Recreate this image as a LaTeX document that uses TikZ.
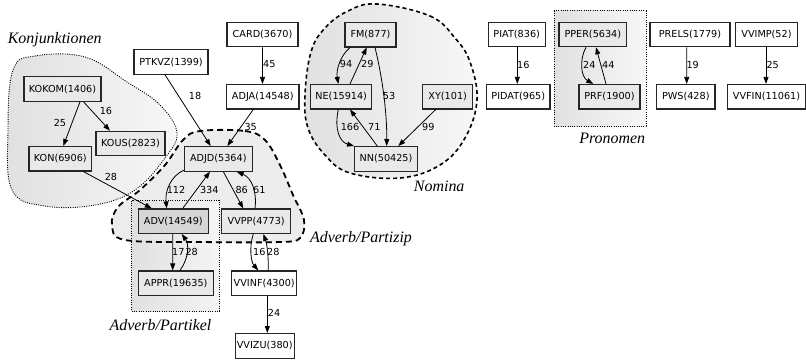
\documentclass[tikz,border=0pt]{standalone}
\usepackage{fontspec}
\newfontfamily\nodefont{DejaVu Sans}
\newfontfamily\clusterfont{Liberation Serif}
\usetikzlibrary{arrows.meta}
\begin{document}
\begin{tikzpicture}[x=1bp,y=-1bp,
  nd/.style={draw=black!85, line width=1.1bp, fill=white, minimum height=24.5bp, inner sep=0pt, font=\nodefont\fontsize{9.7}{11}\selectfont},
  gn/.style={nd, fill=gray!17},
  dn/.style={nd, fill=gray!32},
  lab/.style={font=\nodefont\fontsize{9.7}{11}\selectfont, inner sep=0pt},
  cl/.style={font=\clusterfont\itshape\fontsize{16}{18}\selectfont, inner sep=0pt},
  e/.style={line width=0.8bp, -{Triangle[length=7bp,width=5bp]}},
  dotbord/.style={line width=0.9bp, dash pattern=on 1bp off 1.3bp},
  dashA/.style={line width=1.8bp, dash pattern=on 6bp off 4bp},
  dashB/.style={line width=1.6bp, dash pattern=on 4bp off 3bp}]
\useasboundingbox (0,0) rectangle (806,360);
% clusters
\draw[dotbord, left color=gray!24, right color=gray!6] plot[smooth cycle, tension=0.65] coordinates {(13,70) (35,56) (85,57) (127,82) (160,105) (177,133) (165,158) (135,190) (95,205) (45,206) (12,190) (8,130)};
\draw[dashB, left color=gray!24, right color=gray!6] plot[smooth cycle, tension=0.65] coordinates {(377,4) (430,16) (455,38) (470,62) (477,100) (465,138) (440,165) (400,178) (350,173) (325,155) (308,128) (305,95) (311,52) (325,28) (348,11)};
\path[fill=gray!15] plot[smooth cycle, tension=0.6] coordinates {(200,131) (245,131) (265,140) (280,165) (293,195) (304,220) (300,238) (280,242) (200,242) (125,240) (112,225) (118,207) (140,190) (165,165) (183,140)};
\draw[dotbord, left color=gray!24, right color=gray!8] (131.7,200.7) rectangle (219.3,311);
\draw[dashA] plot[smooth cycle, tension=0.6] coordinates {(200,131) (245,131) (265,140) (280,165) (293,195) (304,220) (300,238) (280,242) (200,242) (125,240) (112,225) (118,207) (140,190) (165,165) (183,140)};
\draw[dotbord, left color=gray!24, right color=gray!6] (554,10.7) rectangle (646,126);
% cluster labels
\node[cl] (ckon) at (54.7,39.5) {Konjunktionen};
\node[cl] (cnom) at (439.2,186.5) {Nomina};
\node[cl] (cpz) at (361,239) {Adverb/Partizip};
\node[cl] (cpk) at (160.5,325) {Adverb/Partikel};
\node[cl] (cpro) at (612.2,138) {Pronomen};
% nodes
\node[gn, minimum width=77bp] (kokom) at (62.5,89) {KOKOM(1406)};
\node[gn, minimum width=69bp] (kous) at (130.5,143.5) {KOUS(2823)};
\node[gn, minimum width=62.7bp] (kon) at (60.3,158.7) {KON(6906)};
\node[nd, minimum width=74bp] (ptkvz) at (171,62) {PTKVZ(1399)};
\node[nd, minimum width=71bp] (card) at (262.5,34.6) {CARD(3670)};
\node[nd, minimum width=72.3bp] (adja) at (262.8,96.7) {ADJA(14548)};
\node[gn, minimum width=68bp] (adjd) at (218.3,158.8) {ADJD(5364)};
\node[dn, minimum width=70bp] (adv) at (173.3,221.2) {ADV(14549)};
\node[gn, minimum width=69bp] (vvpp) at (256.2,221.2) {VVPP(4773)};
\node[gn, minimum width=75bp] (appr) at (175.8,283.2) {APPR(19635)};
\node[nd, minimum width=65bp] (vvinf) at (264.2,283.2) {VVINF(4300)};
\node[nd, minimum width=59.3bp] (vvizu) at (264.7,345.8) {VVIZU(380)};
\node[gn, minimum width=51bp] (fm) at (370.5,34.7) {FM(877)};
\node[gn, minimum width=61bp] (ne) at (341.2,96.7) {NE(15914)};
\node[gn, minimum width=50bp] (xy) at (447.7,96.7) {XY(101)};
\node[gn, minimum width=63.4bp] (nn) at (386,158.8) {NN(50425)};
\node[nd, minimum width=56.7bp] (piat) at (516.7,34.5) {PIAT(836)};
\node[nd, minimum width=63.3bp] (pidat) at (518.3,96.7) {PIDAT(965)};
\node[gn, minimum width=67.7bp] (pper) at (592.8,34.5) {PPER(5634)};
\node[gn, minimum width=61bp] (prf) at (609.5,96.7) {PRF(1900)};
\node[nd, minimum width=80bp] (prels) at (690,34.5) {PRELS(1779)};
\node[nd, minimum width=58.3bp] (pws) at (685.8,96.7) {PWS(428)};
\node[nd, minimum width=61.6bp] (vvimp) at (766.5,34.5) {VVIMP(52)};
\node[nd, minimum width=78.4bp] (vvfin) at (766.5,96.7) {VVFIN(11061)};
% edges
\draw[e] ([xshift=17.5bp]kokom.south) -- ([xshift=3bp]kon.north);
\draw[e] ([xshift=21bp]kokom.south) -- ([xshift=-20.5bp]kous.north);
\draw[e] ([xshift=23bp]kon.south) -- ([xshift=-21.6bp]adv.north);
\draw[e] ([xshift=-6bp]ptkvz.south) -- ([xshift=-7.6bp]adjd.north);
\draw[e] (card.south) -- ([xshift=-0.3bp]adja.north);
\draw[e] ([xshift=-9.5bp]adja.south) -- ([xshift=9bp]adjd.north);
\draw[e] ([xshift=0.5bp,yshift=1.5bp]adjd.south west) .. controls (170,176) and (165,192) .. ([xshift=-6.6bp]adv.north);
\draw[e] ([xshift=9.4bp]adv.north) -- ([xshift=-8.3bp]adjd.south);
\draw[e] ([xshift=5bp]adjd.south) -- ([xshift=-13bp]vvpp.north);
\draw[e] ([xshift=-1.2bp]vvpp.north) .. controls (257,192) and (252,178) .. ([xshift=18.4bp]adjd.south);
\draw[e] ([xshift=-0.6bp]adv.south) -- ([xshift=-3.1bp]appr.north);
\draw[e] ([xshift=4.2bp]appr.north) .. controls (189,258) and (189,244) .. ([xshift=8.4bp]adv.south);
\draw[e] ([xshift=-2.9bp]vvpp.south) .. controls (249,247) and (251,262) .. ([xshift=-5.9bp]vvinf.north);
\draw[e] ([xshift=4.1bp]vvinf.north) .. controls (268.5,256) and (267,244) .. ([xshift=7.1bp]vvpp.south);
\draw[e] ([xshift=3.1bp]vvinf.south) -- ([xshift=2.6bp]vvizu.north);
\draw[e] ([xshift=-20.5bp]fm.south) .. controls (340,56) and (336,70) .. ([xshift=-2.9bp]ne.north);
\draw[e] ([xshift=8.8bp]ne.north) -- ([xshift=-3.8bp]fm.south);
\draw[e] ([xshift=4.5bp]fm.south) .. controls (383,80) and (387,115) .. ([xshift=0.7bp]nn.north);
\draw[e] ([xshift=-2.9bp]ne.south) .. controls (334,130) and (340,142) .. ([xshift=-32bp]nn.north);
\draw[e] ([xshift=-8.7bp]nn.north) -- ([xshift=8.8bp]ne.south);
\draw[e] ([xshift=-12bp]xy.south) -- ([xshift=12.3bp]nn.north);
\draw[e] ([xshift=0.6bp]piat.south) -- ([xshift=-1bp]pidat.north);
\draw[e] ([xshift=-6.8bp]pper.south) .. controls (579,60) and (581,77) .. ([xshift=-16.2bp]prf.north);
\draw[e] ([xshift=-3.5bp]prf.north) -- ([xshift=3.2bp]pper.south);
\draw[e] ([xshift=-3.3bp]prels.south) -- ([xshift=0.9bp]pws.north);
\draw[e] ([xshift=-0.5bp]vvimp.south) -- ([xshift=-0.5bp]vvfin.north);
% edge labels
\node[lab] (l1) at (60,122.7) {25};
\node[lab] (l2) at (106,110.7) {16};
\node[lab] (l3) at (111,176.7) {28};
\node[lab] (l4) at (195,95.7) {18};
\node[lab] (l5) at (269.3,64.3) {45};
\node[lab] (l6) at (250.7,126.7) {35};
\node[lab] (l7) at (176,190) {112};
\node[lab] (l8) at (209.3,190) {334};
\node[lab] (l9) at (241.7,190) {86};
\node[lab] (l10) at (259.3,190) {61};
\node[lab] (l11) at (178.3,251.7) {17};
\node[lab] (l12) at (191.7,251.7) {28};
\node[lab] (l13) at (259.3,251.7) {16};
\node[lab] (l14) at (273.3,251.7) {28};
\node[lab] (l15) at (274,313.3) {24};
\node[lab] (l16) at (346,64.3) {94};
\node[lab] (l17) at (367.3,64.3) {29};
\node[lab] (l18) at (389,95.7) {53};
\node[lab] (l19) at (350,126.7) {166};
\node[lab] (l20) at (374.3,126.7) {71};
\node[lab] (l21) at (428.3,126.7) {99};
\node[lab] (l22) at (523.3,64.7) {16};
\node[lab] (l23) at (589.3,64.7) {24};
\node[lab] (l24) at (608.3,64.7) {44};
\node[lab] (l25) at (692.7,64.7) {19};
\node[lab] (l26) at (772.7,64.7) {25};
\end{tikzpicture}
\end{document}
